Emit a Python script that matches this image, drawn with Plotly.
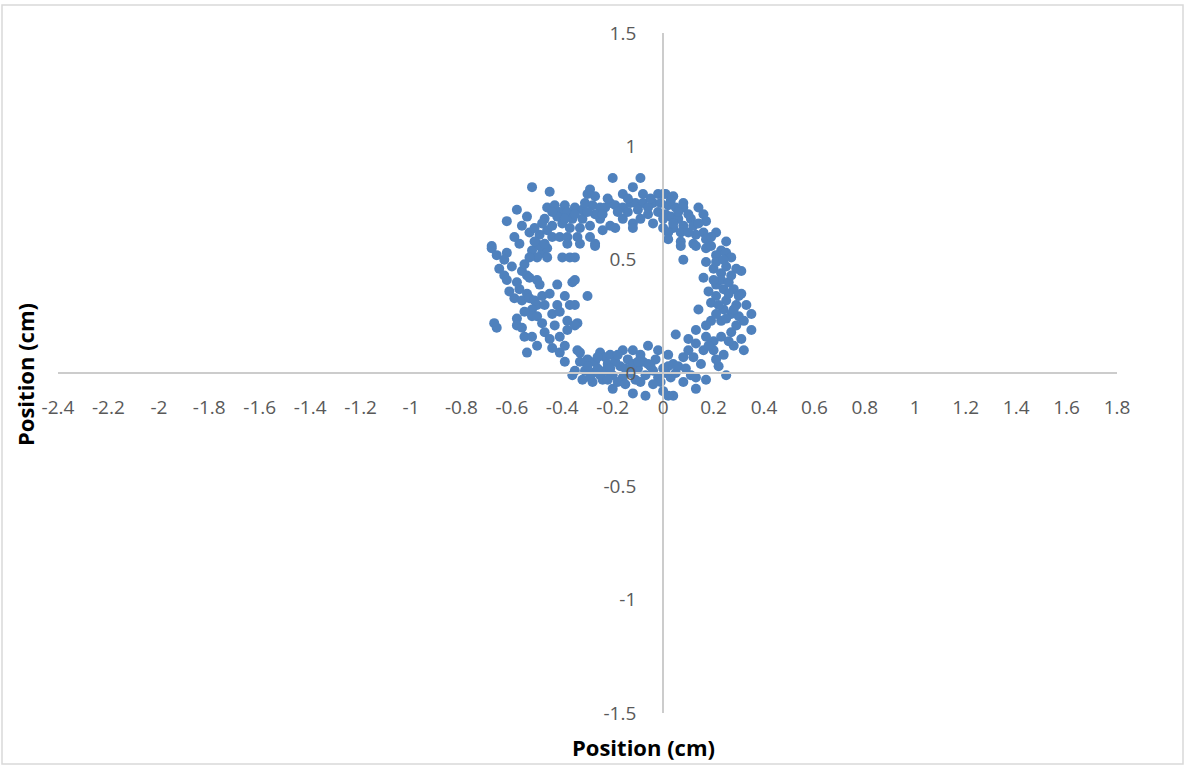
import plotly.graph_objects as go

# ---- data (cm) ----
top_arc = [
    (-0.52, 0.82), (-0.45, 0.80), (-0.58, 0.72), (-0.54, 0.69), (-0.62, 0.67), (-0.46, 0.73),
    (-0.43, 0.74), (-0.39, 0.74), (-0.47, 0.68), (-0.41, 0.71), (-0.38, 0.71), (-0.53, 0.62),
    (-0.59, 0.60), (-0.49, 0.61), (-0.46, 0.63), (-0.44, 0.65), (-0.40, 0.66), (-0.37, 0.64),
    (-0.44, 0.60), (-0.41, 0.60), (-0.38, 0.60), (-0.68, 0.56), (-0.50, 0.57),
    (-0.20, 0.86), (-0.09, 0.86), (-0.12, 0.82), (-0.29, 0.81), (-0.30, 0.79), (-0.27, 0.78),
    (-0.16, 0.79), (-0.08, 0.79), (-0.02, 0.79), (0.00, 0.79), (-0.35, 0.73), (-0.32, 0.72),
    (-0.28, 0.74), (-0.25, 0.73), (-0.21, 0.75), (-0.19, 0.74), (-0.13, 0.75), (-0.11, 0.75),
    (-0.08, 0.75), (-0.04, 0.75), (-0.01, 0.75), (-0.23, 0.73), (-0.16, 0.73), (-0.06, 0.73),
    (-0.36, 0.68), (-0.33, 0.64), (-0.29, 0.65), (-0.25, 0.68), (-0.21, 0.65), (-0.16, 0.68),
    (-0.12, 0.66), (-0.04, 0.66), (0.00, 0.64), (-0.34, 0.60), (-0.29, 0.60), (-0.27, 0.57),
    (-0.19, 0.64), (-0.12, 0.64), (-0.06, 0.70), (-0.02, 0.71), (0.01, 0.70), (-0.14, 0.71),
    (-0.27, 0.70), (-0.32, 0.68),
    (0.01, 0.79), (0.04, 0.78), (0.08, 0.75), (0.02, 0.74), (0.05, 0.73), (0.08, 0.73),
    (0.14, 0.73), (0.16, 0.70), (0.03, 0.69), (0.06, 0.68), (0.11, 0.68), (0.04, 0.64),
    (0.08, 0.65), (0.12, 0.65), (0.17, 0.67), (0.02, 0.62), (0.07, 0.62), (0.13, 0.61),
    (0.16, 0.62), (0.21, 0.62), (0.17, 0.59), (0.25, 0.58), (0.07, 0.58), (0.02, 0.59),
    (0.12, 0.57),
    (-0.42, 0.69), (-0.35, 0.70), (-0.30, 0.71), (-0.24, 0.70), (-0.18, 0.71), (-0.10, 0.72),
    (-0.05, 0.77), (0.03, 0.76), (0.06, 0.71), (0.10, 0.70), (-0.22, 0.77), (-0.14, 0.77),
    (-0.31, 0.75), (-0.39, 0.68), (-0.48, 0.66), (-0.51, 0.64), (0.00, 0.68), (0.10, 0.62),
    (0.14, 0.66), (0.19, 0.60), (0.04, 0.66), (-0.09, 0.68), (-0.24, 0.63), (-0.44, 0.71),
    (-0.56, 0.65),
]

left_side = [
    (-0.68, 0.55), (-0.66, 0.52), (-0.62, 0.53), (-0.63, 0.50), (-0.65, 0.46), (-0.63, 0.43),
    (-0.62, 0.41), (-0.56, 0.45), (-0.54, 0.43), (-0.53, 0.42), (-0.50, 0.41), (-0.49, 0.39),
    (-0.57, 0.37), (-0.54, 0.35), (-0.59, 0.33), (-0.56, 0.32), (-0.53, 0.33), (-0.51, 0.32),
    (-0.48, 0.34), (-0.50, 0.30), (-0.47, 0.30), (-0.52, 0.28), (-0.42, 0.30), (-0.37, 0.30),
    (-0.42, 0.39), (-0.39, 0.34), (-0.36, 0.40), (-0.44, 0.26), (-0.41, 0.27), (-0.58, 0.24),
    (-0.52, 0.25), (-0.50, 0.25), (-0.38, 0.23), (-0.67, 0.22), (-0.40, 0.51), (-0.37, 0.51),
    (-0.52, 0.54), (-0.48, 0.53), (-0.46, 0.51), (-0.50, 0.51), (-0.46, 0.55), (-0.57, 0.57),
    (-0.38, 0.57), (-0.35, 0.51), (-0.35, 0.41), (-0.30, 0.34), (-0.35, 0.30), (-0.34, 0.22),
    (-0.27, 0.56), (-0.33, 0.57),
    (-0.66, 0.20), (-0.58, 0.21), (-0.56, 0.20), (-0.55, 0.16), (-0.54, 0.09), (-0.50, 0.12),
    (-0.47, 0.18), (-0.43, 0.21), (-0.45, 0.15), (-0.41, 0.16), (-0.39, 0.12), (-0.41, 0.09),
    (-0.39, 0.05), (-0.36, -0.01), (-0.38, 0.19),
    (-0.49, 0.56), (-0.51, 0.58), (-0.47, 0.57), (-0.53, 0.51), (-0.55, 0.48), (-0.60, 0.47),
    (-0.58, 0.40), (-0.61, 0.36), (-0.55, 0.27), (-0.48, 0.22), (-0.45, 0.35), (-0.52, 0.16),
    (-0.44, 0.11),
]

bottom_arc = [
    (-0.35, 0.21), (-0.34, 0.10), (-0.33, 0.09), (-0.30, 0.06), (-0.25, 0.09), (-0.23, 0.07),
    (-0.21, 0.08), (-0.16, 0.10), (-0.12, 0.10), (-0.06, 0.12), (-0.02, 0.10), (-0.35, 0.01),
    (-0.31, 0.01), (-0.28, 0.00), (-0.25, -0.01), (-0.23, 0.01), (-0.20, -0.01), (-0.17, 0.03),
    (-0.16, -0.02), (-0.10, 0.02), (-0.07, -0.01), (-0.04, 0.01), (-0.02, -0.02), (-0.20, -0.07),
    (-0.12, -0.09), (-0.07, -0.10), (0.00, -0.08), (-0.28, -0.04), (-0.32, -0.03),
    (-0.27, 0.05), (-0.22, 0.04), (-0.19, 0.05), (-0.14, 0.06), (-0.12, 0.04), (-0.08, 0.05),
    (-0.05, 0.03), (-0.03, 0.06), (0.02, 0.03), (0.01, 0.00), (-0.01, -0.04), (0.03, -0.02),
    (-0.24, -0.03), (-0.18, -0.04), (-0.13, 0.00), (0.02, 0.08), (-0.30, 0.03), (-0.26, 0.02),
    (-0.15, 0.02), (-0.09, 0.08), (-0.21, 0.02), (-0.11, -0.03),
    (-0.29, -0.02), (-0.22, -0.03), (-0.15, -0.05), (-0.09, -0.04), (-0.04, -0.05), (0.00, 0.02),
    (-0.26, 0.07), (-0.18, 0.08), (-0.10, 0.05), (-0.33, 0.05), (0.05, 0.00), (-0.06, 0.04),
]

right_side = [
    (0.07, 0.56), (0.13, 0.56), (0.17, 0.55), (0.19, 0.56), (0.23, 0.54), (0.25, 0.53),
    (0.08, 0.50), (0.16, 0.42), (0.17, 0.49), (0.20, 0.46), (0.23, 0.44), (0.29, 0.46),
    (0.31, 0.45), (0.21, 0.39), (0.24, 0.37), (0.28, 0.37), (0.31, 0.35), (0.25, 0.32),
    (0.19, 0.31), (0.14, 0.28), (0.24, 0.28), (0.27, 0.26), (0.30, 0.25), (0.35, 0.26),
    (0.19, 0.23), (0.23, 0.23), (0.32, 0.23), (0.23, 0.41), (0.26, 0.40), (0.21, 0.34),
    (0.29, 0.30), (0.27, 0.51), (0.25, 0.47), (0.21, 0.52),
    (0.13, 0.19), (0.17, 0.21), (0.05, 0.17), (0.10, 0.15), (0.13, 0.13), (0.17, 0.16),
    (0.20, 0.14), (0.23, 0.16), (0.27, 0.18), (0.31, 0.15), (0.35, 0.19), (0.28, 0.12),
    (0.20, 0.10), (0.16, 0.10), (0.12, 0.07), (0.08, 0.07), (0.04, 0.04), (0.06, 0.03),
    (0.24, 0.08), (0.22, 0.03), (0.25, -0.01), (0.11, -0.01), (0.08, -0.04), (0.13, -0.02),
    (0.17, -0.03), (0.04, -0.10), (0.13, -0.07), (0.02, -0.10), (0.32, 0.10),
    (0.21, 0.49), (0.24, 0.50), (0.27, 0.43), (0.20, 0.41), (0.26, 0.35), (0.22, 0.30),
    (0.28, 0.28), (0.25, 0.24), (0.21, 0.26), (0.29, 0.21), (0.26, 0.14), (0.18, 0.12),
    (0.10, 0.10), (0.21, 0.06), (0.15, 0.04), (0.09, 0.02), (0.30, 0.34), (0.33, 0.30),
    (0.18, 0.36),
]

x_tickvals = [-2.4, -2.2, -2.0, -1.8, -1.6, -1.4, -1.2, -1.0, -0.8, -0.6, -0.4, -0.2,
              0.0, 0.2, 0.4, 0.6, 0.8, 1.0, 1.2, 1.4, 1.6, 1.8]
x_ticktext = ["-2.4", "-2.2", "-2", "-1.8", "-1.6", "-1.4", "-1.2", "-1", "-0.8", "-0.6",
              "-0.4", "-0.2", "0", "0.2", "0.4", "0.6", "0.8", "1", "1.2", "1.4", "1.6", "1.8"]
y_tickvals = [-1.5, -1.0, -0.5, 0.0, 0.5, 1.0, 1.5]
y_ticktext = ["-1.5", "-1", "-0.5", "0", "0.5", "1", "1.5"]
x_range = [-2.4, 1.8]
y_range = [-1.5, 1.5]
axis_title = "Position (cm)"

points = top_arc + left_side + bottom_arc + right_side
xs = [p[0] for p in points]
ys = [p[1] for p in points]

# ---- layout geometry (pixels) ----
W, H = 1185, 765
L, R, T, B = 58, 68, 33, 52
pw, ph = W - L - R, H - T - B


def px(xp):
    return (xp - L) / pw


def py(yp):
    return (H - B - yp) / ph


fig = go.Figure()
fig.add_trace(go.Scatter(
    x=xs, y=ys, mode="markers",
    marker=dict(color="#4F81BD", size=10, line=dict(width=0)),
    showlegend=False, hoverinfo="x+y",
))

font_family = "Open Sans, Liberation Sans, sans-serif"
tick_font = dict(family=font_family, size=19, color="#595959")
yaxis_pos = (0 - x_range[0]) / (x_range[1] - x_range[0])

fig.update_layout(
    width=W, height=H,
    margin=dict(l=L, r=R, t=T, b=B, pad=0),
    paper_bgcolor="white", plot_bgcolor="white",
    xaxis=dict(
        range=x_range, tickvals=x_tickvals, ticktext=x_ticktext,
        showgrid=False, zeroline=False, showline=True, linecolor="#CCCCCC", linewidth=2,
        ticks="", tickfont=tick_font, anchor="free", position=0.5,
        ticklabelstandoff=17, fixedrange=True,
    ),
    yaxis=dict(
        range=y_range, tickvals=y_tickvals, ticktext=y_ticktext,
        showgrid=False, zeroline=False, showline=True, linecolor="#CCCCCC", linewidth=2,
        ticks="", tickfont=tick_font, anchor="free", position=yaxis_pos,
        ticklabelstandoff=22, fixedrange=True,
    ),
    shapes=[dict(
        type="rect", xref="paper", yref="paper",
        x0=px(2), x1=px(1183), y0=py(764), y1=py(5),
        line=dict(color="#D9D9D9", width=1.5), fillcolor="rgba(0,0,0,0)", layer="below",
    )],
    annotations=[
        dict(text="<b>%s</b>" % axis_title, xref="paper", yref="paper",
             x=px(643), y=py(747), showarrow=False, xanchor="center", yanchor="middle",
             font=dict(family=font_family, size=22, color="black")),
        dict(text="<b>%s</b>" % axis_title, xref="paper", yref="paper",
             x=px(25), y=py(375), showarrow=False, xanchor="center", yanchor="middle",
             textangle=-90,
             font=dict(family=font_family, size=22, color="black")),
    ],
)

fig.write_html(
    "out.html",
    config={"displayModeBar": False},
    post_script="document.body.style.margin='0';document.body.style.overflow='hidden';",
)
